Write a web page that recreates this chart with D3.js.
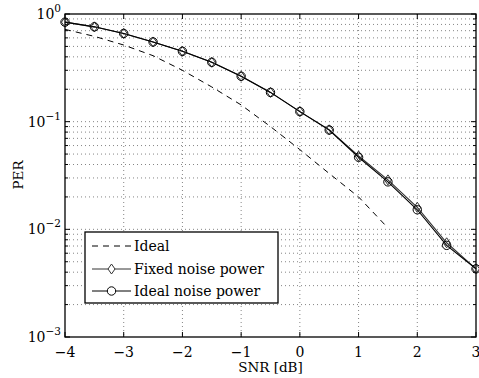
<!DOCTYPE html>
<html>
<head>
<meta charset="utf-8">
<script src="https://cdn.jsdelivr.net/npm/d3@7"></script>
<style>
body { margin: 0; background: #fff; }
text { font-family: "DejaVu Serif", "Liberation Serif", serif; }
</style>
</head>
<body>
<div id="chart-area"></div>
<script>
// data
var snr = [-4, -3.5, -3, -2.5, -2, -1.5, -1, -0.5, 0, 0.5, 1, 1.5, 2, 2.5, 3];
var perIdealNoise = [0.84, 0.76, 0.66, 0.55, 0.45, 0.356, 0.264, 0.187, 0.124, 0.0837, 0.0467, 0.0276, 0.0152, 0.0071, 0.0043];
var perFixedNoise = [0.84, 0.76, 0.66, 0.55, 0.45, 0.356, 0.264, 0.187, 0.124, 0.0840, 0.0480, 0.0288, 0.0160, 0.0075, 0.0043];
var snrIdeal = [-4, -3.5, -3, -2.5, -2, -1.5, -1, -0.5, 0, 0.5, 1, 1.5];
var perIdeal = [0.72, 0.62, 0.515, 0.41, 0.30, 0.21, 0.143, 0.09, 0.055, 0.033, 0.020, 0.0103];
var xTicks = [-4, -3, -2, -1, 0, 1, 2, 3];
var yTicks = [1e-3, 1e-2, 1e-1, 1];
var legendNames = ["Ideal", "Fixed noise power", "Ideal noise power"];

var W = 479, H = 378;
var m = {left: 65, right: 3, top: 14, bottom: 41};

var svg = d3.select("#chart-area").append("svg")
    .attr("width", W)
    .attr("height", H);

var x = d3.scaleLinear().domain([-4, 3]).range([m.left, W - m.right]);
var y = d3.scaleLog().domain([1e-3, 1]).range([H - m.bottom, m.top]);

// minor log ticks
var minor = [];
[1e-3, 1e-2, 1e-1].forEach(function(b) {
    for (var k = 2; k <= 9; k++) minor.push(b * k);
});

var grid = svg.append("g").attr("stroke", "#666").attr("stroke-width", 0.8)
    .attr("stroke-dasharray", "1,3");
grid.selectAll(".hg").data(minor.concat(yTicks.slice(1, 3))).enter().append("line")
    .attr("x1", x(-4)).attr("x2", x(3))
    .attr("y1", d => y(d)).attr("y2", d => y(d));
grid.selectAll(".vg").data(xTicks.slice(1, -1)).enter().append("line")
    .attr("x1", d => x(d)).attr("x2", d => x(d))
    .attr("y1", y(1)).attr("y2", y(1e-3));

// ticks inside on all four sides
var tk = svg.append("g").attr("stroke", "#000").attr("stroke-width", 1);
xTicks.forEach(function(t) {
    tk.append("line").attr("x1", x(t)).attr("x2", x(t)).attr("y1", y(1e-3)).attr("y2", y(1e-3) - 5);
    tk.append("line").attr("x1", x(t)).attr("x2", x(t)).attr("y1", y(1)).attr("y2", y(1) + 5);
});
minor.concat(yTicks).forEach(function(t) {
    var len = yTicks.indexOf(t) >= 0 ? 5 : 3;
    tk.append("line").attr("x1", x(-4)).attr("x2", x(-4) + len).attr("y1", y(t)).attr("y2", y(t));
    tk.append("line").attr("x1", x(3)).attr("x2", x(3) - len).attr("y1", y(t)).attr("y2", y(t));
});

// axis box
svg.append("rect")
    .attr("x", x(-4)).attr("y", y(1))
    .attr("width", x(3) - x(-4)).attr("height", y(1e-3) - y(1))
    .attr("fill", "none").attr("stroke", "#000").attr("stroke-width", 1.3);

// tick labels
svg.selectAll(".xl").data(xTicks).enter().append("text")
    .attr("x", d => x(d)).attr("y", H - m.bottom + 20)
    .attr("text-anchor", "middle").attr("font-size", 14)
    .text(d => d < 0 ? "\u2212" + Math.abs(d) : d);

yTicks.forEach(function(t) {
    var e = Math.round(Math.log10(t));
    var tx = svg.append("text")
        .attr("x", 61).attr("y", y(t) + 5)
        .attr("text-anchor", "end").attr("font-size", 14);
    tx.append("tspan").text("10");
    tx.append("tspan").attr("dy", -7).attr("font-size", 10.5)
        .text(e < 0 ? "\u2212" + Math.abs(e) : e);
});

svg.append("text")
    .attr("x", (x(-4) + x(3)) / 2).attr("y", H - 6)
    .attr("text-anchor", "middle").attr("font-size", 13.5)
    .text("SNR [dB]");
svg.append("text")
    .attr("transform", "translate(23," + 175 + ") rotate(-90)")
    .attr("text-anchor", "middle").attr("font-size", 13.5)
    .text("PER");

// curves
var line = d3.line().x(d => x(d[0])).y(d => y(d[1]));

svg.append("path")
    .datum(d3.zip(snrIdeal, perIdeal))
    .attr("d", line).attr("fill", "none")
    .attr("stroke", "#000").attr("stroke-width", 1).attr("stroke-dasharray", "6,5");

svg.append("path")
    .datum(d3.zip(snr, perFixedNoise))
    .attr("d", line).attr("fill", "none")
    .attr("stroke", "#333").attr("stroke-width", 1.1);

svg.append("path")
    .datum(d3.zip(snr, perIdealNoise))
    .attr("d", line).attr("fill", "none")
    .attr("stroke", "#000").attr("stroke-width", 1.1);

var diamond = "M0,-5L3.5,0L0,5L-3.5,0Z";
svg.selectAll(".dm").data(d3.zip(snr, perFixedNoise)).enter().append("path")
    .attr("transform", d => "translate(" + x(d[0]) + "," + y(d[1]) + ")")
    .attr("d", diamond).attr("fill", "none").attr("stroke", "#333").attr("stroke-width", 1);

svg.selectAll(".cm").data(d3.zip(snr, perIdealNoise)).enter().append("circle")
    .attr("cx", d => x(d[0])).attr("cy", d => y(d[1])).attr("r", 4.2)
    .attr("fill", "none").attr("stroke", "#000").attr("stroke-width", 1);

// legend
var lg = svg.append("g");
lg.append("rect")
    .attr("x", 85).attr("y", 232).attr("width", 193).attr("height", 71)
    .attr("fill", "#fff").attr("stroke", "#000").attr("stroke-width", 1.3);
var rowY = [246, 269, 291];
legendNames.forEach(function(name, i) {
    var ln = lg.append("line")
        .attr("x1", 92).attr("x2", 131).attr("y1", rowY[i]).attr("y2", rowY[i])
        .attr("stroke", i == 1 ? "#333" : "#000").attr("stroke-width", 1);
    if (i == 0) ln.attr("stroke-dasharray", "6,5");
    if (i == 1) lg.append("path").attr("transform", "translate(111.5," + rowY[i] + ")")
        .attr("d", diamond).attr("fill", "#fff").attr("stroke", "#333");
    if (i == 2) lg.append("circle").attr("cx", 111.5).attr("cy", rowY[i]).attr("r", 4.2)
        .attr("fill", "#fff").attr("stroke", "#000");
    lg.append("text").attr("x", 134).attr("y", rowY[i] + 5)
        .attr("font-size", 14).text(name);
});
</script>
</body>
</html>
